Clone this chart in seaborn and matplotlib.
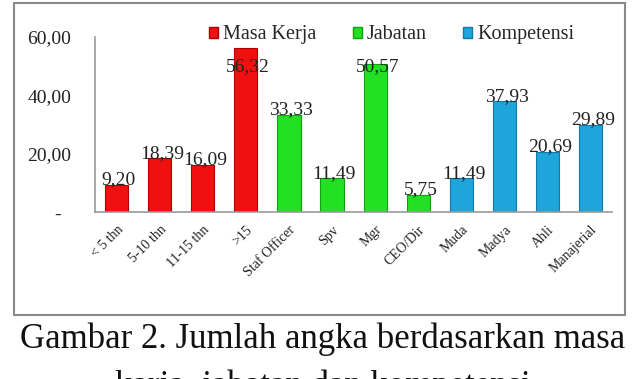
import matplotlib
matplotlib.use("Agg")
import matplotlib.pyplot as plt
import matplotlib.patches as mpatches
import pandas as pd
import seaborn as sns

# data
categories = ["< 5 thn", "5-10 thn", "11-15 thn", ">15",
              "Staf Officer", "Spv", "Mgr", "CEO/Dir",
              "Muda", "Madya", "Ahli", "Manajerial"]
values = [9.20, 18.39, 16.09, 56.32,
          33.33, 11.49, 50.57, 5.75,
          11.49, 37.93, 20.69, 29.89]
groups = ["Masa Kerja"] * 4 + ["Jabatan"] * 4 + ["Kompetensi"] * 4
group_names = ["Masa Kerja", "Jabatan", "Kompetensi"]
yticks = [0, 20, 40, 60]
ytick_labels = ["-  ", "20,00", "40,00", "60,00"]

colors = {"Masa Kerja": "#f01010", "Jabatan": "#22e022", "Kompetensi": "#1ea5dc"}
edges = {"Masa Kerja": "#b00000", "Jabatan": "#10a010", "Kompetensi": "#1278a8"}

df = pd.DataFrame({"kategori": categories, "nilai": values, "grup": groups})

sns.set_style("white")
plt.rcParams["font.family"] = ["Liberation Serif", "DejaVu Serif"]

fig = plt.figure(figsize=(6.39, 3.79), dpi=100)
ax = fig.add_axes([0.1487, 0.4406, 0.8093, 0.4618])

sns.barplot(data=df, x="kategori", y="nilai", hue="grup", palette=colors,
            saturation=1, dodge=False, width=0.54, legend=False, ax=ax)
for bar, g in zip(ax.patches, groups):
    bar.set_edgecolor(edges[g])
    bar.set_linewidth(0.8)

for i, v in enumerate(values):
    ax.text(i + 0.05, min(v + 1.8, 50), f"{v:.2f}".replace(".", ","),
            ha="center", va="center", fontsize=14, color="#222222")

ax.set_ylim(0, 60)
ax.set_xlim(-0.5, 11.5)
ax.set_yticks(yticks)
ax.set_yticklabels(ytick_labels, fontsize=14, color="#222222")
ax.set_xticks(range(len(categories)))
ax.set_xticklabels(categories, rotation=45, ha="right", rotation_mode="anchor",
                   fontsize=10, color="#222222")
ax.tick_params(axis="y", length=0, pad=17)
ax.tick_params(axis="x", length=0, pad=8)
ax.set_xlabel("")
ax.set_ylabel("")
for s in ["top", "right"]:
    ax.spines[s].set_visible(False)
for s in ["left", "bottom"]:
    ax.spines[s].set_color("#999999")
    ax.spines[s].set_linewidth(1.2)

handles = [mpatches.Patch(facecolor=colors[g], edgecolor=edges[g]) for g in group_names]
fig.legend(handles, group_names, loc="center", bbox_to_anchor=(0.613, 0.908),
           ncol=3, frameon=False, fontsize=14.5, handlelength=0.45,
           handleheight=0.45, handletextpad=0.25, columnspacing=1.8)

# outer chart border
fig.patches.append(mpatches.Rectangle((0.0219, 0.1689), 0.956, 0.823,
                                      transform=fig.transFigure, fill=False,
                                      edgecolor="#8a8a8a", linewidth=1.5))

fig.text(0.505, 0.1055, "Gambar 2. Jumlah angka berdasarkan masa",
         ha="center", va="center", fontsize=25, color="#111111")
fig.text(0.505, -0.02, "karja, jabatan dan kompetensi",
         ha="center", va="center", fontsize=25, color="#111111")

fig.savefig("out.png", dpi=100)
